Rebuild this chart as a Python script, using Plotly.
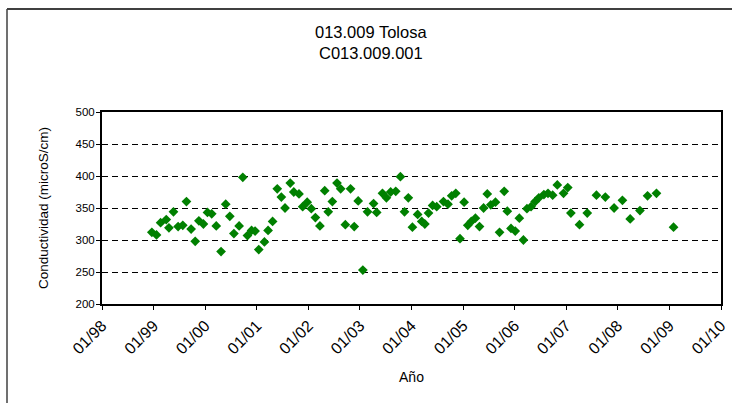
import plotly.graph_objects as go

dates = [
    "1998-12-20", "1999-01-22", "1999-02-20", "1999-04-01", "1999-04-20", "1999-05-22",
    "1999-06-24", "1999-07-27", "1999-08-22", "1999-09-24", "1999-10-23", "1999-11-18",
    "1999-12-20", "2000-01-18", "2000-02-17", "2000-03-20", "2000-04-23", "2000-05-26",
    "2000-06-24", "2000-07-23", "2000-08-29", "2000-09-24", "2000-10-27", "2000-11-25",
    "2000-12-20", "2001-01-15", "2001-02-24", "2001-03-22", "2001-04-23", "2001-05-26",
    "2001-06-24", "2001-07-20", "2001-08-26", "2001-09-20", "2001-10-27", "2001-11-22",
    "2001-12-24", "2002-01-22", "2002-02-20", "2002-03-24", "2002-04-27", "2002-05-22",
    "2002-06-20", "2002-07-23", "2002-08-18", "2002-09-20", "2002-10-27", "2002-11-22",
    "2002-12-20", "2003-01-22", "2003-02-24", "2003-04-08", "2003-04-30", "2003-06-10",
    "2003-07-08", "2003-08-07", "2003-09-12", "2003-10-15", "2003-11-13", "2003-12-10",
    "2004-01-08", "2004-02-14", "2004-03-14", "2004-04-05", "2004-05-01", "2004-05-30",
    "2004-06-28", "2004-08-15", "2004-09-16", "2004-10-12", "2004-11-10", "2004-12-10",
    "2005-01-08", "2005-02-03", "2005-02-28", "2005-03-29", "2005-04-27", "2005-05-26",
    "2005-06-21", "2005-07-16", "2005-08-18", "2005-09-16", "2005-10-19", "2005-11-10",
    "2005-12-06", "2006-01-05", "2006-02-03", "2006-03-04", "2006-03-29", "2006-04-27",
    "2006-05-26", "2006-06-21", "2006-07-27", "2006-08-25", "2006-09-27", "2006-10-30",
    "2006-12-13", "2007-01-12", "2007-02-03", "2007-04-05", "2007-05-30", "2007-08-03",
    "2007-10-05", "2007-12-06", "2008-02-03", "2008-03-29", "2008-06-06", "2008-07-30",
    "2008-10-01", "2009-01-30",
]
conductividad = [
    312, 308, 327, 332, 319, 344,
    321, 323, 360, 317, 298, 330,
    325, 343, 341, 322, 282, 356,
    337, 310, 322, 398, 307, 315,
    314, 285, 297, 315, 329, 380,
    367, 350, 389, 375, 372, 352,
    359, 349, 335, 322, 377, 344,
    360, 389, 380, 324, 380, 321,
    361, 253, 344, 357, 343, 373,
    366, 375, 376, 399, 344, 366,
    320, 340, 329, 325, 342, 354,
    352, 360, 356, 369, 373, 302,
    359, 323, 329, 334, 321, 350,
    372, 355, 359, 312, 376, 345,
    318, 314, 334, 300, 349, 352,
    360, 366, 371, 373, 370, 386,
    373, 382, 342, 324, 342, 370,
    367, 350, 362, 333, 346, 369,
    373, 320,
]

title_line1 = "013.009 Tolosa"
title_line2 = "C013.009.001"
x_title = "Año"
y_title = "Conductividad (microS/cm)"

FONT = "Liberation Sans, Arial, sans-serif"

fig = go.Figure()
fig.add_trace(go.Scatter(
    x=dates, y=conductividad, mode="markers",
    marker=dict(symbol="diamond", size=7.5, color="#008000", line=dict(width=0)),
    showlegend=False,
))

fig.update_layout(
    width=732, height=403,
    margin=dict(l=102, r=11, t=112, b=99),
    paper_bgcolor="white", plot_bgcolor="white",
    font=dict(family=FONT, size=11, color="black"),
    xaxis=dict(
        type="date", range=["1998-01-01", "2010-01-01"],
        tick0="1998-01-01", dtick="M12", tickformat="%m/%y",
        tickangle=-45, ticks="outside", ticklen=4, tickcolor="black",
        showline=True, linecolor="black", linewidth=2, mirror=True,
        showgrid=False, zeroline=False, automargin=False,
        title=dict(text=x_title, font=dict(size=14), standoff=16),
        tickfont=dict(size=16),
    ),
    yaxis=dict(
        range=[200, 500], dtick=50, ticks="outside", ticklen=4, tickcolor="black",
        showline=True, linecolor="black", linewidth=2, mirror=True,
        showgrid=True, gridcolor="black", gridwidth=1, griddash="6px,4px",
        zeroline=False, automargin=False, ticklabelstandoff=-1,
        title=dict(text=y_title, font=dict(size=13.5), standoff=24),
        tickfont=dict(size=11.5),
    ),
    annotations=[
        dict(text=title_line1, xref="paper", yref="paper", x=(371 - 102) / 619,
             y=(304 - 32) / 192, showarrow=False, font=dict(size=16.5),
             xanchor="center", yanchor="middle"),
        dict(text=title_line2, xref="paper", yref="paper", x=(371 - 102) / 619,
             y=(304 - 53) / 192, showarrow=False, font=dict(size=16.5),
             xanchor="center", yanchor="middle"),
    ],
    shapes=[
        dict(type="line", xref="paper", yref="paper",
             x0=(7 - 102) / 619, x1=1.1, y0=(304 - 9) / 192, y1=(304 - 9) / 192,
             line=dict(color="#404040", width=2)),
        dict(type="line", xref="paper", yref="paper",
             x0=(7 - 102) / 619, x1=(7 - 102) / 619, y0=(304 - 9) / 192, y1=-0.6,
             line=dict(color="#404040", width=1.5)),
    ],
)

fig.write_html("out.html", config={"displayModeBar": False},
               post_script="document.body.style.margin='0px';")
